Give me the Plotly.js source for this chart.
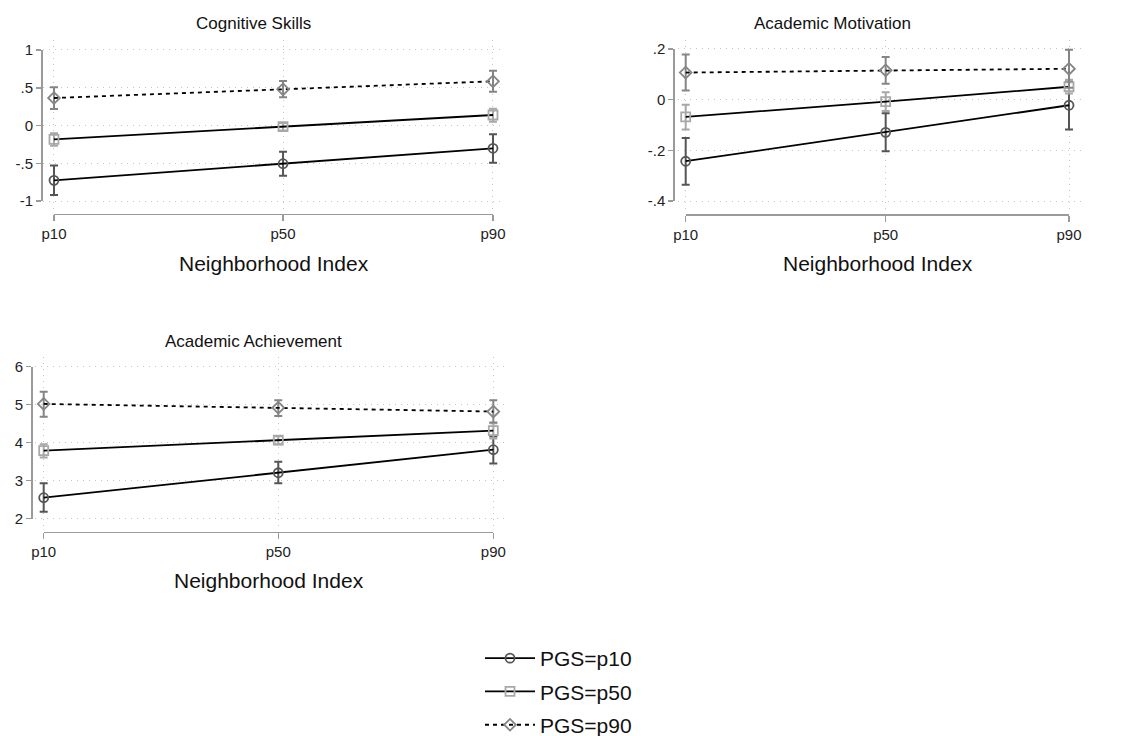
<!DOCTYPE html>
<html>
<head>
<meta charset="utf-8">
<script src="https://cdn.plot.ly/plotly-3.0.1.min.js"></script>
<style>
  html, body { margin: 0; padding: 0; background: #ffffff; }
  #chart { width: 1128px; height: 736px; }
</style>
</head>
<body>
<div id="chart"></div>
<script>
// ---------------- data ----------------
const nbhdX = [-1.2, 0, 1.1];            // neighborhood index at p10, p50, p90
const nbhdLabels = ['p10', 'p50', 'p90'];
const seriesNames = ['PGS=p10', 'PGS=p50', 'PGS=p90'];
const panelTitles = ['Cognitive Skills', 'Academic Motivation', 'Academic Achievement'];
const xTitle = 'Neighborhood Index';

// Cognitive Skills
const cogP10 = [-0.726, -0.506, -0.302];
const cogP10Lo = [-0.920, -0.665, -0.493];
const cogP10Hi = [-0.530, -0.347, -0.117];
const cogP50 = [-0.183, -0.016, 0.139];
const cogP50Lo = [-0.267, -0.065, 0.050];
const cogP50Hi = [-0.103, 0.033, 0.223];
const cogP90 = [0.364, 0.479, 0.585];
const cogP90Lo = [0.219, 0.373, 0.448];
const cogP90Hi = [0.506, 0.589, 0.726];

// Academic Motivation
const motP10 = [-0.243, -0.129, -0.022];
const motP10Lo = [-0.336, -0.204, -0.118];
const motP10Hi = [-0.151, -0.054, 0.072];
const motP50 = [-0.068, -0.008, 0.051];
const motP50Lo = [-0.118, -0.045, 0.024];
const motP50Hi = [-0.020, 0.029, 0.079];
const motP90 = [0.107, 0.116, 0.122];
const motP90Lo = [0.036, 0.063, 0.047];
const motP90Hi = [0.178, 0.168, 0.197];

// Academic Achievement
const achP10 = [2.553, 3.210, 3.816];
const achP10Lo = [2.180, 2.930, 3.456];
const achP10Hi = [2.930, 3.500, 4.160];
const achP50 = [3.790, 4.070, 4.320];
const achP50Lo = [3.610, 3.960, 4.110];
const achP50Hi = [3.960, 4.170, 4.510];
const achP90 = [5.020, 4.920, 4.820];
const achP90Lo = [4.680, 4.700, 4.530];
const achP90Hi = [5.340, 5.120, 5.120];

// y tick values / labels per panel
const cogTicks = [-1, -0.5, 0, 0.5, 1];
const cogTickText = ['-1', '-.5', '0', '.5', '1'];
const motTicks = [-0.4, -0.2, 0, 0.2];
const motTickText = ['-.4', '-.2', '0', '.2'];
const achTicks = [2, 3, 4, 5, 6];
const achTickText = ['2', '3', '4', '5', '6'];

// ---------------- styles ----------------
const FONT = 'Liberation Sans, Arial, Helvetica, sans-serif';
const styles = [
  { symbol: 'circle-open',  mcolor: '#555555', dash: 'solid' },
  { symbol: 'square-open',  mcolor: '#a8a8a8', dash: 'solid' },
  { symbol: 'diamond-open', mcolor: '#858585', dash: '4px,4px' }
];

const panels = [
  { xa: 'x',  ya: 'y',  series: [[cogP10, cogP10Lo, cogP10Hi], [cogP50, cogP50Lo, cogP50Hi], [cogP90, cogP90Lo, cogP90Hi]] },
  { xa: 'x2', ya: 'y2', series: [[motP10, motP10Lo, motP10Hi], [motP50, motP50Lo, motP50Hi], [motP90, motP90Lo, motP90Hi]] },
  { xa: 'x3', ya: 'y3', series: [[achP10, achP10Lo, achP10Hi], [achP50, achP50Lo, achP50Hi], [achP90, achP90Lo, achP90Hi]] }
];

const traces = [];
panels.forEach((p, pi) => {
  p.series.forEach((s, si) => {
    const [y, lo, hi] = s;
    const st = styles[si];
    traces.push({
      type: 'scatter',
      mode: 'lines+markers',
      x: nbhdX,
      y: y,
      xaxis: p.xa,
      yaxis: p.ya,
      name: seriesNames[si],
      legendgroup: 'g' + si,
      showlegend: pi === 0,
      cliponaxis: false,
      line: { color: '#000000', width: 1.8, dash: st.dash },
      marker: { symbol: st.symbol, size: 9, color: st.mcolor, line: { width: 1.8, color: st.mcolor } },
      error_y: {
        type: 'data',
        symmetric: false,
        array: hi.map((v, i) => v - y[i]),
        arrayminus: y.map((v, i) => v - lo[i]),
        color: st.mcolor,
        thickness: 2,
        width: 4
      },
      hoverinfo: 'x+y'
    });
  });
});
// empty carriers so the offset (Stata-style) axes get drawn
[['x4', 'y4'], ['x5', 'y5'], ['x6', 'y6']].forEach(([xa, ya]) => {
  traces.push({ type: 'scatter', mode: 'markers', x: [], y: [], xaxis: xa, yaxis: ya, showlegend: false, hoverinfo: 'skip' });
});

const W = 1128, H = 736;
const px = v => v / W;
const py = v => 1 - v / H;

function dataX(domL, domR, rng) {
  return {
    domain: [px(domL), px(domR)], range: rng, anchor: 'free', position: 0,
    showline: false, zeroline: false, showticklabels: false, ticks: '',
    showgrid: true, gridcolor: '#c4c4c4', gridwidth: 1, griddash: '1px,5px',
    tickmode: 'array', tickvals: nbhdX, fixedrange: true
  };
}
function dataY(topPx, botPx, rng, ticks) {
  return {
    domain: [py(botPx), py(topPx)], range: rng, anchor: 'free', position: 0,
    showline: false, zeroline: false, showticklabels: false, ticks: '',
    showgrid: true, gridcolor: '#c4c4c4', gridwidth: 1, griddash: '1px,5px',
    tickmode: 'array', tickvals: ticks, fixedrange: true
  };
}
function dispX(l, r, posPx) {
  return {
    domain: [px(l), px(r)], range: [nbhdX[0], nbhdX[2]], anchor: 'free', position: py(posPx),
    showline: true, linecolor: '#9a9a9a', linewidth: 1.5,
    ticks: 'outside', ticklen: 6, tickwidth: 1.5, tickcolor: '#9a9a9a',
    tickmode: 'array', tickvals: nbhdX, ticktext: nbhdLabels,
    tickfont: { family: FONT, size: 15, color: '#222222' },
    showgrid: false, zeroline: false, fixedrange: true
  };
}
function dispY(topPx, botPx, rng, ticks, text, posPx) {
  return {
    domain: [py(botPx), py(topPx)], range: rng, anchor: 'free', position: px(posPx),
    showline: true, linecolor: '#9a9a9a', linewidth: 1.5,
    ticks: 'outside', ticklen: 5, tickwidth: 1.5, tickcolor: '#9a9a9a',
    tickmode: 'array', tickvals: ticks, ticktext: text,
    tickfont: { family: FONT, size: 15, color: '#222222' },
    showgrid: false, zeroline: false, fixedrange: true
  };
}

const ann = (text, x, y, size) => ({
  text: text, x: px(x), y: py(y), xref: 'paper', yref: 'paper',
  xanchor: 'center', yanchor: 'middle', showarrow: false,
  font: { family: FONT, size: size, color: '#111111' }
});

const layout = {
  width: W, height: H,
  margin: { l: 0, r: 0, t: 0, b: 0, autoexpand: false },
  paper_bgcolor: '#ffffff', plot_bgcolor: 'rgba(0,0,0,0)',
  font: { family: FONT, color: '#222222' },
  showlegend: true,
  legend: {
    x: px(480), y: -9 / H, xanchor: 'left', yanchor: 'bottom',
    font: { family: FONT, size: 21, color: '#111111' },
    bgcolor: 'rgba(0,0,0,0)', borderwidth: 0,
    itemwidth: 50, tracegroupgap: 3, traceorder: 'grouped'
  },
  // data axes
  xaxis: dataX(43, 505, [-1.2576, 1.1629]),
  yaxis: dataY(40, 210, [-1.119, 1.132], cogTicks),
  xaxis2: dataX(678, 1082, [-1.2462, 1.178]),
  yaxis2: dataY(40, 210, [-0.4355, 0.2355], motTicks),
  xaxis3: dataX(35, 507, [-1.2445, 1.170]),
  yaxis3: dataY(357, 527, [1.782, 6.255], achTicks),
  // display axes (offset lines, ticks and labels)
  xaxis4: dispX(54, 493, 213.5),
  yaxis4: dispY(50, 201, [-1, 1], cogTicks, cogTickText, 41),
  xaxis5: dispX(685.7, 1069, 214),
  yaxis5: dispY(49, 201, [-0.4, 0.2], motTicks, motTickText, 673.3),
  xaxis6: dispX(43.7, 493.3, 531.7),
  yaxis6: dispY(366.7, 518.7, [2, 6], achTicks, achTickText, 31),
  annotations: [
    ann(panelTitles[0], 253, 23, 17),
    ann(panelTitles[1], 832, 23, 17),
    ann(panelTitles[2], 253, 341, 17),
    ann(xTitle, 273.5, 263.5, 21),
    ann(xTitle, 877.5, 263.5, 21),
    ann(xTitle, 268.5, 580.5, 21)
  ]
};

Plotly.newPlot('chart', traces, layout, { displayModeBar: false, staticPlot: true });
</script>
</body>
</html>
